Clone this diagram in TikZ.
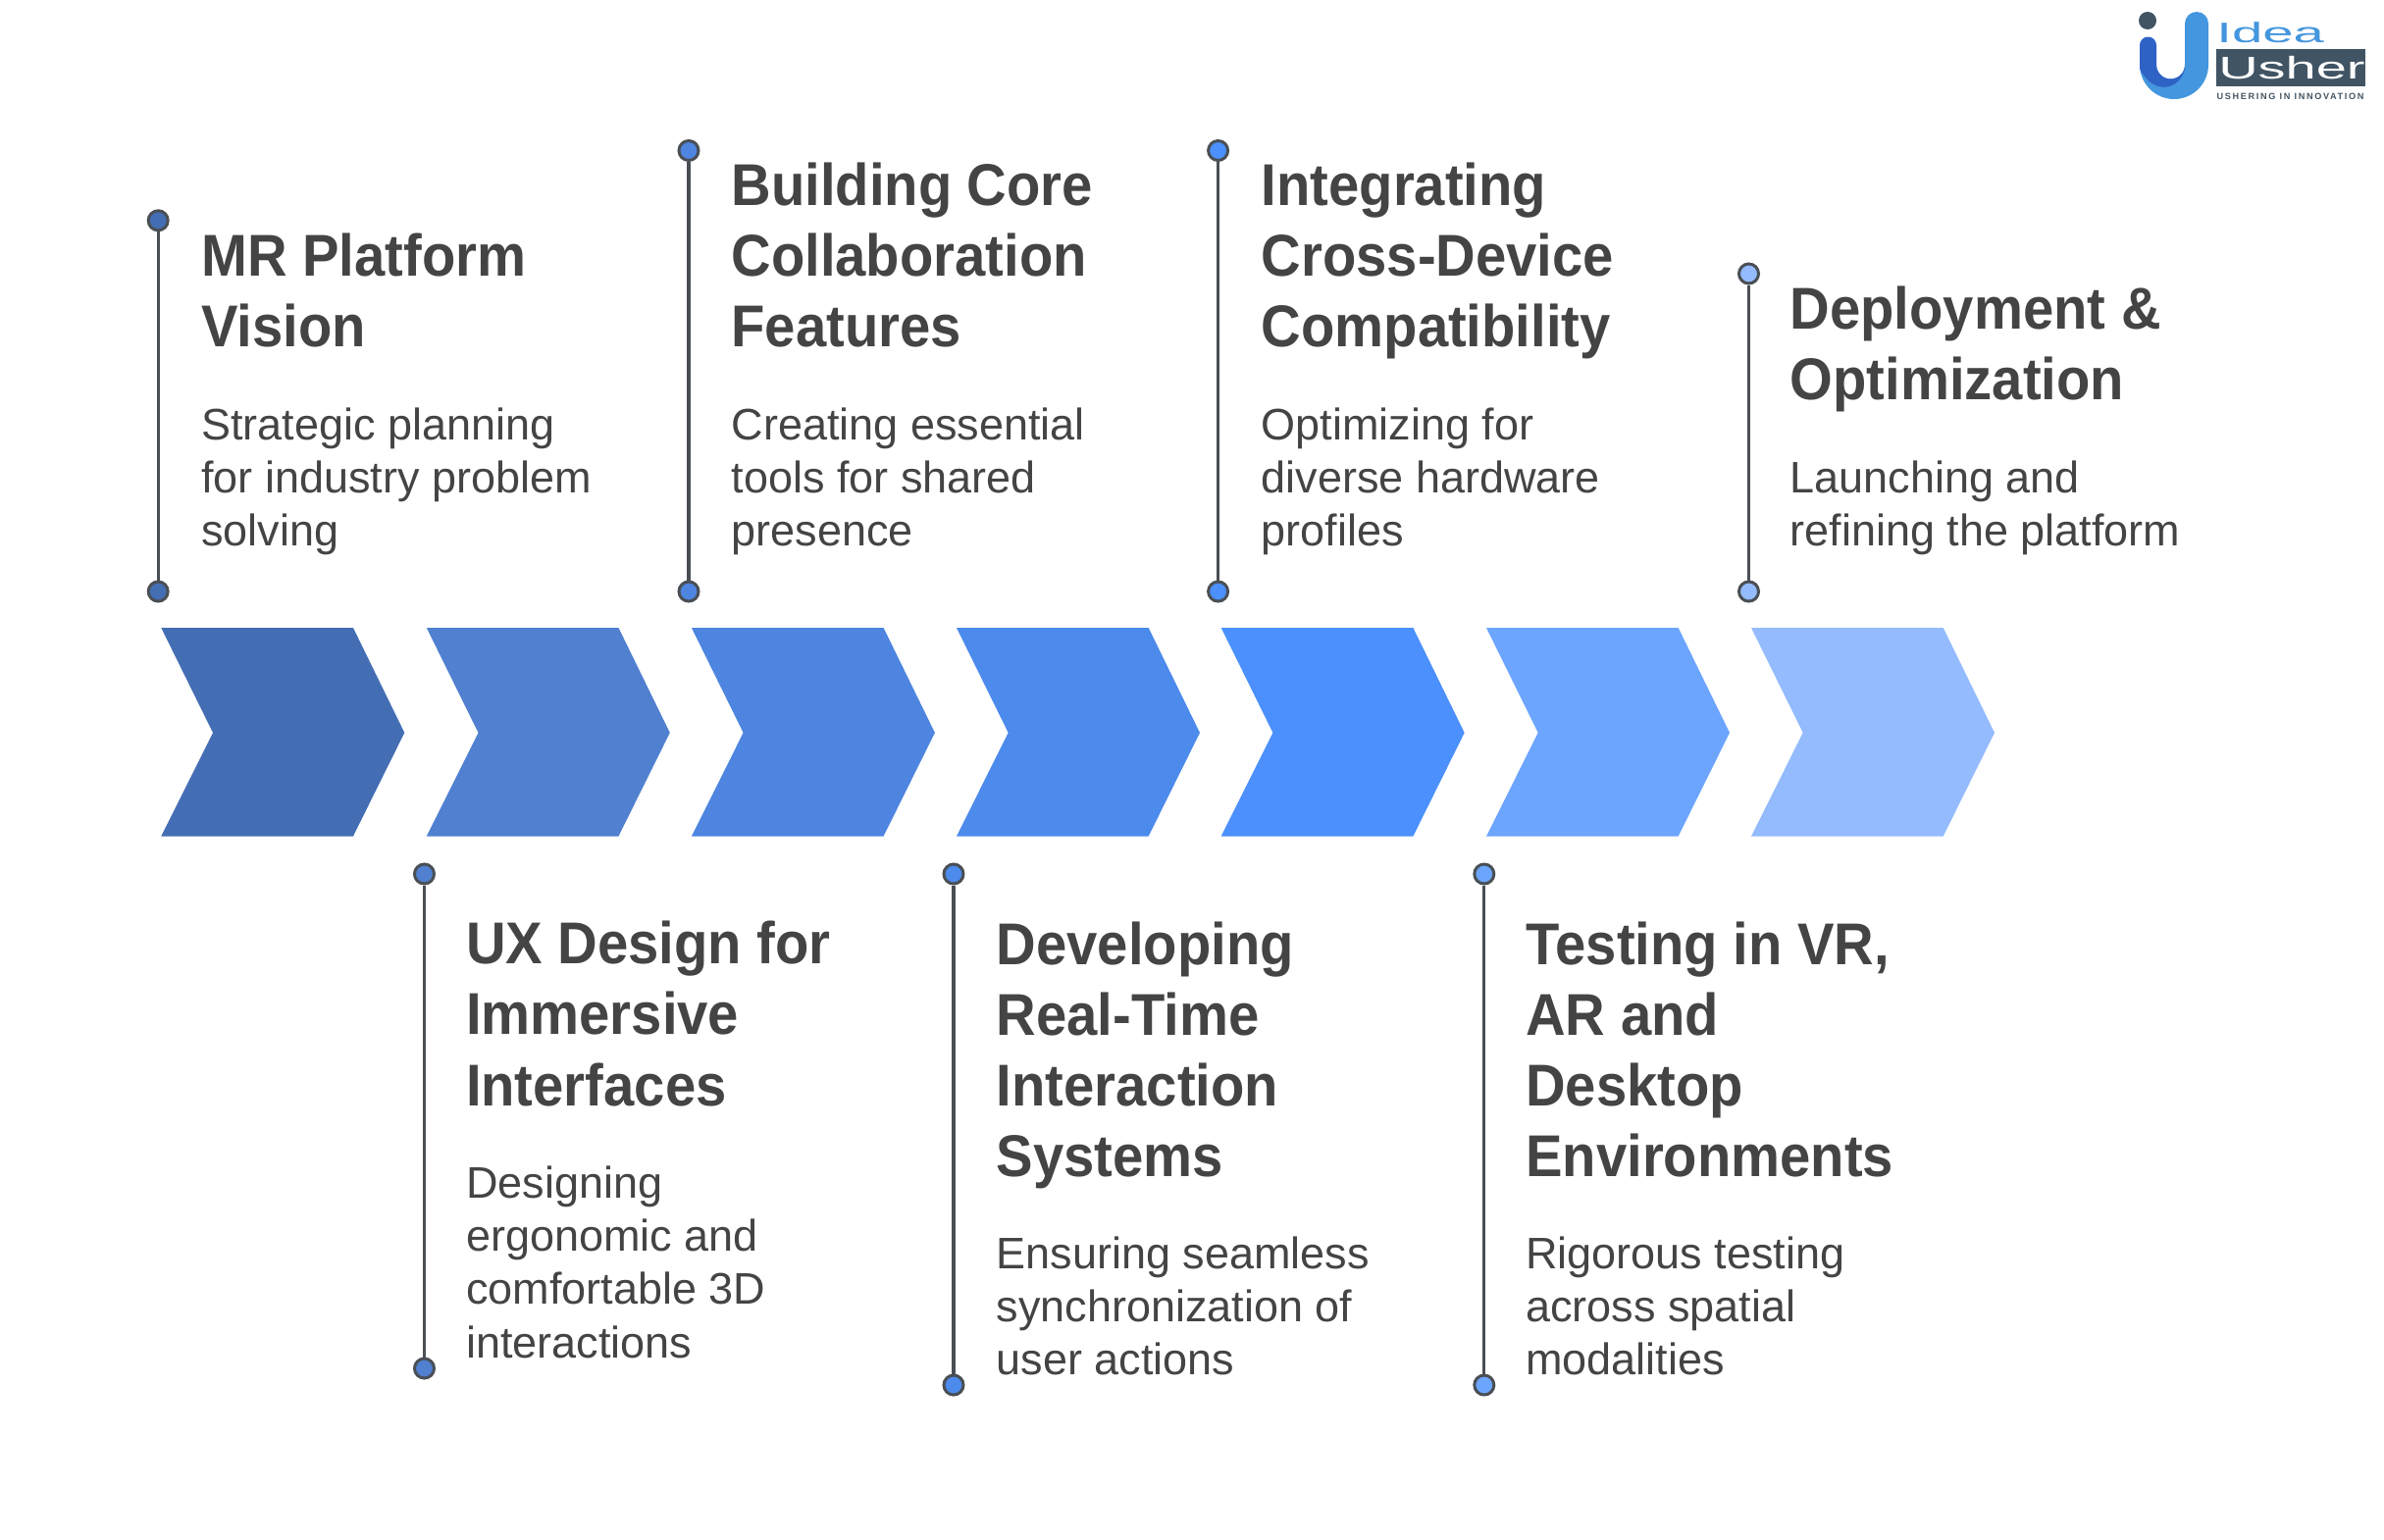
\documentclass[tikz,border=0pt]{standalone}
\usepackage{fontspec}
\setmainfont{Liberation Sans}
\newfontfamily\headfont[FakeStretch=0.935]{Liberation Sans Bold}
\newfontfamily\copyfont[FakeStretch=1.0]{Liberation Sans}
\newfontfamily\tagfont[LetterSpace=18]{Liberation Sans Bold}
\definecolor{inktext}{HTML}{444444}
\definecolor{pinline}{HTML}{4A4F55}
\definecolor{stepa}{HTML}{446EB4}
\definecolor{stepb}{HTML}{5080CF}
\definecolor{stepc}{HTML}{4D85E0}
\definecolor{stepd}{HTML}{4C8AEC}
\definecolor{stepe}{HTML}{4B90FC}
\definecolor{stepf}{HTML}{6CA5FD}
\definecolor{stepg}{HTML}{93BBFD}
\definecolor{logoslate}{HTML}{415464}
\definecolor{logolight}{HTML}{4496DE}
\definecolor{logodark}{HTML}{2F62C5}
\tikzset{
	head/.style={anchor=base west,inner sep=0,align=left,text=inktext,font=\headfont\fontsize{17.1}{20.5}\selectfont},
	body/.style={anchor=base west,inner sep=0,align=left,text=inktext,font=\copyfont\fontsize{12.8}{15.4}\selectfont},
	pin/.style={circle,draw=pinline,line width=0.85pt,inner sep=0,minimum size=0.2cm},
	pinbar/.style={draw=pinline,line width=0.9pt}
}
\begin{document}
\begin{tikzpicture}[x=0.01cm,y=-0.01cm]
	\useasboundingbox (0,0) rectangle (2430,1569);
	
	\fill[stepa](164.3,640)--(360,640)--(412.3,747)--(360,852.5)--(164.3,852.5)--(217,747)--cycle;
	\fill[stepb](434.8,640)--(630.5,640)--(682.8,747)--(630.5,852.5)--(434.8,852.5)--(487.5,747)--cycle;
	\fill[stepc](704.9,640)--(900.6,640)--(952.9,747)--(900.6,852.5)--(704.9,852.5)--(757.6,747)--cycle;
	\fill[stepd](975,640)--(1170.7,640)--(1223,747)--(1170.7,852.5)--(975,852.5)--(1027.7,747)--cycle;
	\fill[stepe](1244.7,640)--(1440.4,640)--(1492.7,747)--(1440.4,852.5)--(1244.7,852.5)--(1297.4,747)--cycle;
	\fill[stepf](1515,640)--(1710.7,640)--(1763,747)--(1710.7,852.5)--(1515,852.5)--(1567.7,747)--cycle;
	\fill[stepg](1785,640)--(1980.7,640)--(2033,747)--(1980.7,852.5)--(1785,852.5)--(1837.7,747)--cycle;
	
	\node[pin,fill=stepa] (platformtop) at (161.2,224.8) {};
	\node[pin,fill=stepa] (platformend) at (161.2,603) {};
	\draw[pinbar] (platformtop)--(platformend);
	\node[head] (platformhead) at (204.6,353.4) {MR Platform\\Vision};
	\node[body] (platformbody) at (204.6,556.5) {Strategic planning\\for industry problem\\solving};
	
	\node[pin,fill=stepb] (uxtop) at (432.5,891) {};
	\node[pin,fill=stepb] (uxend) at (432.5,1395) {};
	\draw[pinbar] (uxtop)--(uxend);
	\node[head] (uxhead) at (474.3,1127) {UX Design for\\Immersive\\Interfaces};
	\node[body] (uxbody) at (474.3,1384) {Designing\\ergonomic and\\comfortable 3D\\interactions};
	
	\node[pin,fill=stepc] (coretop) at (702,153.5) {};
	\node[pin,fill=stepc] (coreend) at (702,603) {};
	\draw[pinbar] (coretop)--(coreend);
	\node[head] (corehead) at (744.8,353.4) {Building Core\\Collaboration\\Features};
	\node[body] (corebody) at (744.8,556.5) {Creating essential\\tools for shared\\presence};
	
	\node[pin,fill=stepd] (realtop) at (972,891) {};
	\node[pin,fill=stepd] (realend) at (972,1412) {};
	\draw[pinbar] (realtop)--(realend);
	\node[head] (realhead) at (1015,1199.7) {Developing\\Real-Time\\Interaction\\Systems};
	\node[body] (realbody) at (1015,1401.5) {Ensuring seamless\\synchronization of\\user actions};
	
	\node[pin,fill=stepe] (crosstop) at (1241.6,153.5) {};
	\node[pin,fill=stepe] (crossend) at (1241.6,603) {};
	\draw[pinbar] (crosstop)--(crossend);
	\node[head] (crosshead) at (1285,353.4) {Integrating\\Cross-Device\\Compatibility};
	\node[body] (crossbody) at (1285,556.5) {Optimizing for\\diverse hardware\\profiles};
	
	\node[pin,fill=stepf] (testtop) at (1512.8,891) {};
	\node[pin,fill=stepf] (testend) at (1512.8,1412) {};
	\draw[pinbar] (testtop)--(testend);
	\node[head] (testhead) at (1554.6,1199.7) {Testing in VR,\\AR and\\Desktop\\Environments};
	\node[body] (testbody) at (1554.6,1401.5) {Rigorous testing\\across spatial\\modalities};
	
	\node[pin,fill=stepg] (deploytop) at (1782.5,279) {};
	\node[pin,fill=stepg] (deployend) at (1782.5,603) {};
	\draw[pinbar] (deploytop)--(deployend);
	\node[head] (deployhead) at (1824,407.6) {Deployment \&\\Optimization};
	\node[body] (deploybody) at (1824,556.5) {Launching and\\refining the platform};
	
	% logo
	\fill[logoslate] (2189,21) circle [radius=9];
	\fill[logolight] (2181,66) arc [start angle=180,end angle=0,radius=35]--(2251,24) arc [start angle=0,end angle=-180,radius=12]--(2227,66) arc [start angle=0,end angle=180,radius=14.5]--cycle;
	\fill[logodark] (2181,46) arc [start angle=180,end angle=360,radius=8.5]--(2198,66) arc [start angle=180,end angle=0,radius=14.5]--(2227,70) .. controls (2222,92) and (2195,98) .. (2181,70)--cycle;
	\fill[logoslate] (2259,50) rectangle (2411,88);
	\node[anchor=base west,inner sep=0,xscale=1.95,text=logolight,font=\fontsize{8.2}{8.2}\selectfont] (logoidea) at (2258,43) {Idea};
	\node[anchor=base west,inner sep=0,xscale=1.75,text=white,font=\fontsize{9.1}{9.1}\selectfont] (logousher) at (2260,80) {Usher};
	\node[anchor=base west,inner sep=0,text=logoslate,font=\tagfont\fontsize{2.6}{2.6}\selectfont] (logotag) at (2259,101) {USHERING IN INNOVATION};
\end{tikzpicture}
\end{document}
